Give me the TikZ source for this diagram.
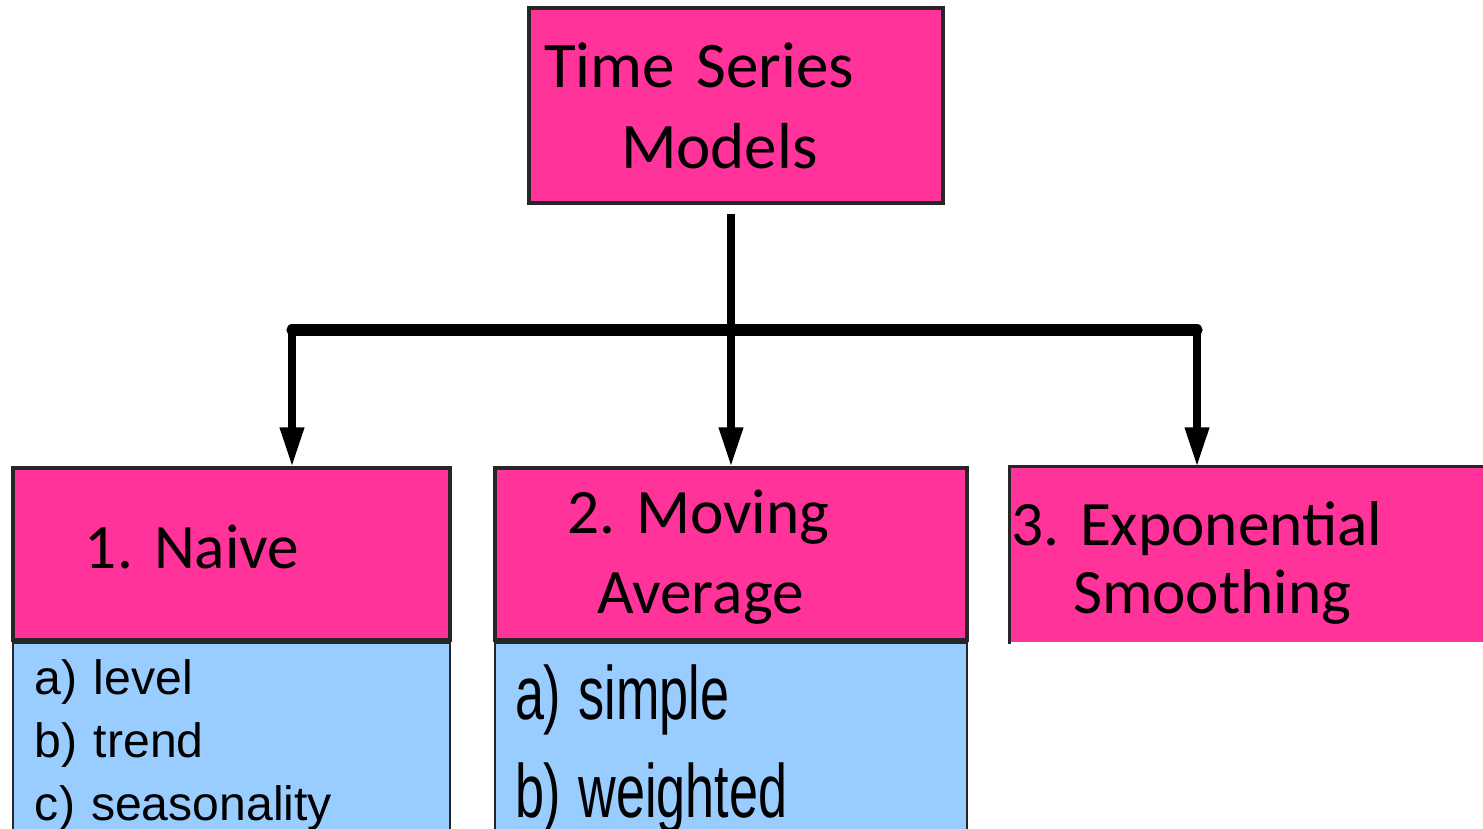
\documentclass[tikz,border=0pt]{standalone}
\usepackage{fontspec}
\setmainfont{Carlito}
\newfontfamily\listfont{Liberation Sans}
\usepackage{tikz}
\usetikzlibrary{arrows.meta,backgrounds,positioning,calc}
\definecolor{ModelPink}{RGB}{255,51,153}
\definecolor{ListBlue}{RGB}{153,204,255}
\definecolor{EdgeGray}{RGB}{38,38,38}
\newcommand{\narrowed}[1]{\scalebox{0.69}[1]{#1}}
\frenchspacing
\tikzset{
  modelbox/.style={
    draw=EdgeGray,
    line width=0.9pt,
    fill=ModelPink,
    align=left,
    inner xsep=0pt,
    inner ysep=0pt,
    minimum height=1.72cm,
    font=\fontsize{18}{22.5}\selectfont
  },
  listbox/.style={
    draw=EdgeGray,
    line width=0.6pt,
    fill=ListBlue,
    align=left,
    inner xsep=0pt,
    inner ysep=0pt
  },
  drop/.style={-{Triangle[length=0.39cm,width=0.23cm]},line width=2pt},
  bus/.style={line width=3.2pt,line cap=round}
}

\begin{document}
\begin{tikzpicture}

\useasboundingbox (0,0) rectangle (14.83,-8.29);

\node[modelbox,text width=4.14cm,minimum height=1.95cm,font=\fontsize{18.5}{23}\selectfont] (root) at (7.36,-1.055)
  {\hspace*{0.15cm}Time Series\\\hspace*{0.92cm}Models};

\node[modelbox,text width=4.37cm] (naive) at (2.315,-5.54)
  {\hspace*{0.72cm}1. Naive\rule[-0.14cm]{0pt}{0.1cm}};
\node[modelbox,text width=4.72cm,font=\fontsize{18}{22.8}\selectfont] (moving) at (7.31,-5.54)
  {\rule{0pt}{0.5cm}\hspace*{0.72cm}2. Moving\\\hspace*{1.02cm}Average};
\node[modelbox,draw=none,text width=4.89cm,minimum height=1.74cm,font=\fontsize{18}{19.5}\selectfont] (expo) at (12.555,-5.55)
  {\rule{0pt}{0.6cm}3. Exponential\\\hspace*{0.62cm}Smoothing};
\draw[EdgeGray,line width=0.9pt] (expo.south west) -- (expo.north west) -- (expo.north east);

% connectors
\coordinate (busL) at (2.92,-3.30);
\coordinate (busR) at (11.97,-3.30);
\draw[drop,shorten <=0.09cm] (moving.north |- root.south) -- (moving.north);
\draw[bus] (busL) -- (busR);
\draw[drop] (busL) -- (busL |- naive.north);
\draw[drop] (busR) -- (busR |- expo.north);

\begin{pgfonlayer}{background}
  \node[listbox,below=0cm of naive,text width=4.37cm,minimum height=2.05cm,
        font=\listfont\fontsize{13.7}{17.9}\selectfont] (naivelist)
    {\hspace*{0.22cm}a) level\\\hspace*{0.22cm}b) trend\\\hspace*{0.22cm}c) seasonality};
  \node[listbox,below=0cm of moving,text width=4.72cm,minimum height=2.13cm,
        font=\listfont\fontsize{21.5}{27.9}\selectfont] (movinglist)
    {\hspace*{0.2cm}\narrowed{a) simple}\\\hspace*{0.2cm}\narrowed{b) weighted}};
\end{pgfonlayer}

\end{tikzpicture}
\end{document}
